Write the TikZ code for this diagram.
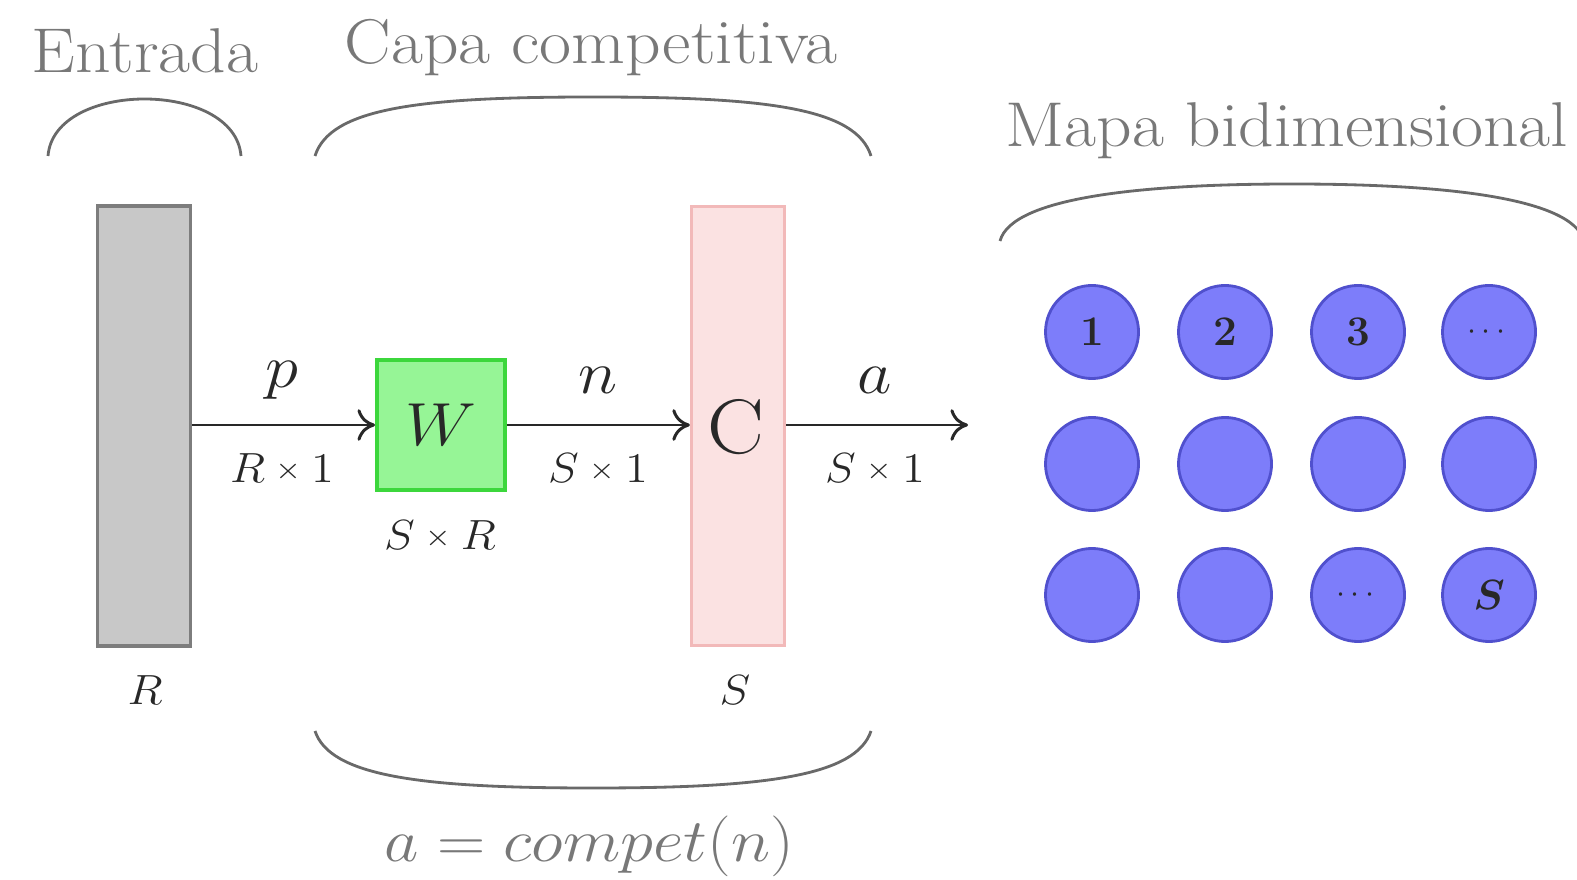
\documentclass[tikz,border=0pt]{standalone}
\usepackage{amsmath}
\usetikzlibrary{arrows.meta}
\definecolor{txtgray}{RGB}{120,120,120}
\definecolor{arcgray}{RGB}{105,105,105}
\definecolor{rectfill}{RGB}{200,200,200}
\definecolor{rectdraw}{RGB}{125,125,125}
\definecolor{wfill}{RGB}{150,245,150}
\definecolor{wdraw}{RGB}{60,215,60}
\definecolor{cfill}{RGB}{251,226,226}
\definecolor{cdraw}{RGB}{242,185,185}
\definecolor{nfill}{RGB}{125,125,250}
\definecolor{ndraw}{RGB}{80,80,205}
\definecolor{ink}{RGB}{40,40,40}
\newcommand{\smx}{\mathbin{\vcenter{\hbox{$\scriptstyle\times$}}}}
\newcommand{\ndots}{{\fontsize{9}{10}\selectfont$\cdots$}}
\tikzset{
  title/.style={text=txtgray, font=\fontsize{18}{22}\selectfont, inner sep=0pt, xscale=1.1, transform shape},
  brace/.style={draw=arcgray, line width=0.8pt},
  conn/.style={draw=ink, line width=0.85pt, -{To[length=5pt,width=9pt]}},
  lbl/.style={text=ink, font=\fontsize{18}{22}\selectfont, inner sep=0pt, xscale=1.1, transform shape},
  dim/.style={text=ink, font=\fontsize{11.5}{14}\selectfont, inner sep=0pt, xscale=1.1, transform shape},
  neuron/.style={circle, fill=nfill, draw=ndraw, line width=0.8pt, minimum size=0.93cm, inner sep=0pt, text=ink, font=\fontsize{12}{15}\selectfont\bfseries},
}
\begin{document}
\begin{tikzpicture}[x=0.01cm, y=-0.01cm]
\useasboundingbox (0,0) rectangle (1577,880);
\clip (0,0) rectangle (1577,880);
% titles
\node[title] (tin) at (145,51) {Entrada};
\node[title] (tcap) at (591,48) {Capa competitiva};
\node[title] (tmap) at (1287,131) {Mapa bidimensional};
\node[title, font=\fontsize{19}{22}\selectfont] (comp) at (589,846) {$a = compet(n)$};
% braces
\draw[brace] (48,156) .. controls (54,80) and (235,80) .. (241,156);
\draw[brace] (315,156) .. controls (330,108) and (420,97) .. (593,97) .. controls (766,97) and (856,108) .. (871,156);
\draw[brace] (315,731) .. controls (330,776) and (420,788) .. (593,788) .. controls (766,788) and (856,776) .. (871,731);
\draw[brace] (1000,241) .. controls (1012,196) and (1150,184) .. (1292,184) .. controls (1434,184) and (1572,196) .. (1584,241);
% blocks
\node[draw=rectdraw, fill=rectfill, line width=1.1pt, minimum width=0.93cm, minimum height=4.39cm, inner sep=0pt] (inp) at (144,426) {};
\node[draw=wdraw, fill=wfill, line width=1.1pt, minimum width=1.28cm, minimum height=1.30cm, inner sep=0pt] (W) at (441,425) {};
\node[lbl, font=\fontsize{19}{24}\selectfont] (Wt) at (W.center) {$W$};
\node[draw=cdraw, fill=cfill, line width=0.9pt, minimum width=0.93cm, minimum height=4.39cm, inner sep=0pt] (C) at (738,426) {};
\node[lbl, font=\fontsize{22}{26}\selectfont] (Ct) at (736,427) {C};
\coordinate (out) at (968,425);
% connectors
\draw[conn] (inp.east |- W.west) -- (W.west);
\draw[conn] (W.east) -- (C.west |- W.east);
\draw[conn] (C.east |- W.east) -- (out);
% labels
\node[lbl] (lp) at (282,380) {$p$};
\node[dim] (lR1) at (282,468) {$R\smx 1$};
\node[lbl] (ln) at (598,380) {$n$};
\node[dim] (lS1) at (598,468) {$S\smx 1$};
\node[lbl] (la) at (875,380) {$a$};
\node[dim] (lS2) at (875,468) {$S\smx 1$};
\node[dim] (lSR) at (440,535) {$S\smx R$};
\node[dim] (lR) at (145,690) {$R$};
\node[dim] (lS) at (735,690) {$S$};
% map
\node[neuron] (n11) at (1092,332) {1};
\node[neuron] (n12) at (1225,332) {2};
\node[neuron] (n13) at (1358,332) {3};
\node[neuron] (n14) at (1489,332) {\ndots};
\node[neuron] (n21) at (1092,464) {};
\node[neuron] (n22) at (1225,464) {};
\node[neuron] (n23) at (1358,464) {};
\node[neuron] (n24) at (1489,464) {};
\node[neuron] (n31) at (1092,595) {};
\node[neuron] (n32) at (1225,595) {};
\node[neuron] (n33) at (1358,595) {\ndots};
\node[neuron] (n34) at (1489,595) {$\boldsymbol{S}$};
\end{tikzpicture}
\end{document}
